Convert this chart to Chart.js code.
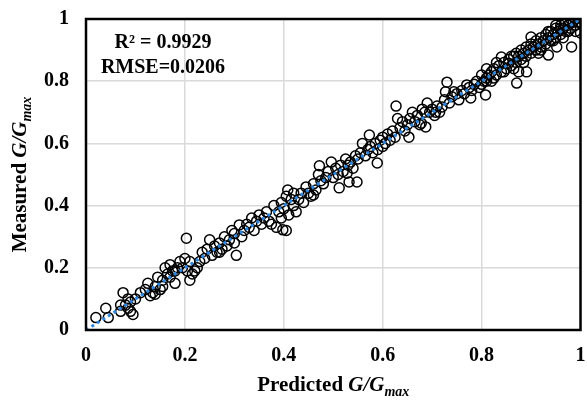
<!DOCTYPE html>
<html>
<head>
<meta charset="utf-8">
<script src="https://cdn.jsdelivr.net/npm/chart.js@4"></script>
<style>
  html, body { margin: 0; padding: 0; background: #fff; }
  #wrap { width: 587px; height: 400px; }
</style>
</head>
<body>
<div id="wrap"><canvas id="gChart" width="587" height="400"></canvas></div>
<script>
// values (predicted vs measured G/Gmax)
const predicted = [
  0.02,0.04,0.045,0.07,0.075,0.08,0.085,0.09,0.09,0.095,
  0.1,0.085,0.07,0.12,0.125,0.13,0.135,0.14,0.145,0.15,
  0.155,0.16,0.165,0.17,0.175,0.18,0.185,0.19,0.195,0.203,
  0.2,0.205,0.21,0.21,0.215,0.22,0.225,0.23,0.14,0.11,
  0.155,0.17,0.18,0.235,0.24,0.245,0.25,0.255,0.26,0.265,
  0.27,0.275,0.28,0.285,0.29,0.295,0.3,0.304,0.31,0.3,
  0.315,0.32,0.27,0.325,0.33,0.335,0.34,0.345,0.35,0.355,
  0.36,0.365,0.37,0.38,0.385,0.39,0.395,0.4,0.398,0.405,
  0.41,0.405,0.415,0.42,0.42,0.425,0.408,0.395,0.375,0.43,
  0.435,0.44,0.445,0.45,0.455,0.46,0.46,0.465,0.47,0.472,
  0.475,0.48,0.485,0.49,0.496,0.5,0.505,0.51,0.512,0.515,
  0.52,0.525,0.528,0.53,0.532,0.535,0.54,0.545,0.548,0.55,
  0.555,0.559,0.565,0.57,0.573,0.575,0.58,0.585,0.589,0.59,
  0.595,0.6,0.6,0.605,0.61,0.615,0.62,0.625,0.627,0.63,
  0.635,0.64,0.645,0.65,0.653,0.655,0.66,0.665,0.67,0.675,
  0.678,0.68,0.685,0.687,0.69,0.695,0.7,0.705,0.707,0.71,
  0.715,0.72,0.725,0.727,0.73,0.735,0.74,0.744,0.75,0.754,
  0.76,0.765,0.77,0.775,0.778,0.78,0.785,0.79,0.795,0.80,
  0.80,0.805,0.808,0.81,0.815,0.82,0.82,0.825,0.83,0.835,
  0.84,0.84,0.845,0.85,0.855,0.855,0.86,0.865,0.87,0.871,
  0.875,0.875,0.88,0.885,0.89,0.891,0.895,0.9,0.9,0.905,
  0.91,0.915,0.92,0.925,0.93,0.935,0.935,0.94,0.945,0.95,
  0.95,0.952,0.955,0.96,0.965,0.97,0.975,0.98,0.982,0.985,
  0.99,0.995,1.0,1.0,0.96,0.97,0.94,0.92,0.88,0.86,
  0.83,0.81,0.89,0.91,0.93,0.95,0.98,0.99,0.865,0.87,
  0.885,0.9,0.92,0.935,0.945,0.96,0.975,0.99,0.965,0.915,
  0.845,0.825,0.81
];
const measured = [
  0.04,0.07,0.04,0.06,0.12,0.08,0.10,0.09,0.06,0.05,
  0.10,0.07,0.08,0.13,0.15,0.11,0.12,0.14,0.17,0.13,
  0.16,0.20,0.18,0.21,0.19,0.15,0.20,0.22,0.20,0.295,
  0.23,0.19,0.16,0.22,0.18,0.19,0.20,0.22,0.115,0.12,
  0.14,0.17,0.19,0.25,0.23,0.26,0.29,0.24,0.27,0.25,
  0.28,0.26,0.30,0.27,0.29,0.32,0.31,0.24,0.338,0.28,
  0.30,0.32,0.25,0.34,0.33,0.36,0.32,0.35,0.37,0.34,
  0.36,0.38,0.35,0.40,0.33,0.38,0.41,0.39,0.322,0.43,
  0.37,0.32,0.42,0.44,0.40,0.38,0.45,0.36,0.34,0.42,
  0.44,0.41,0.46,0.44,0.43,0.47,0.434,0.45,0.50,0.528,
  0.48,0.47,0.49,0.51,0.54,0.49,0.52,0.50,0.457,0.53,
  0.51,0.55,0.504,0.53,0.476,0.54,0.52,0.56,0.476,0.55,
  0.57,0.60,0.56,0.58,0.627,0.59,0.57,0.60,0.537,0.58,
  0.61,0.59,0.62,0.60,0.63,0.61,0.64,0.62,0.72,0.68,
  0.65,0.67,0.64,0.66,0.62,0.68,0.70,0.67,0.69,0.66,
  0.665,0.71,0.70,0.653,0.73,0.70,0.71,0.69,0.70,0.72,
  0.70,0.717,0.74,0.766,0.797,0.73,0.75,0.766,0.76,0.74,
  0.77,0.76,0.788,0.78,0.746,0.77,0.79,0.80,0.78,0.82,
  0.79,0.80,0.756,0.81,0.82,0.83,0.80,0.84,0.82,0.85,
  0.878,0.83,0.86,0.84,0.858,0.87,0.85,0.88,0.86,0.794,
  0.83,0.88,0.87,0.89,0.88,0.83,0.90,0.942,0.89,0.91,
  0.90,0.92,0.91,0.93,0.92,0.884,0.94,0.93,0.95,0.98,
  0.94,0.91,0.96,0.95,0.97,0.96,0.98,0.97,0.91,0.99,
  0.98,0.99,0.99,0.955,0.97,0.99,0.96,0.94,0.90,0.88,
  0.86,0.84,0.91,0.93,0.95,0.97,1.0,1.0,0.84,0.89,
  0.86,0.92,0.90,0.96,0.93,0.98,0.96,0.96,0.94,0.89,
  0.83,0.81,0.80
];
const lineX = [0, 1];
const lineY = [0, 1];
const tickLabels = ["0", "0.2", "0.4", "0.6", "0.8", "1"];
const statLines = ["R\u00b2 = 0.9929", "RMSE=0.0206"];

const SERIF = "'Liberation Serif', 'Times New Roman', serif";

function pairs(xs, ys) {
  return xs.map((x, i) => ({ x: x, y: ys[i] }));
}

// draws "Word G/Gmax" with italic part and subscript
function mixedTitle(ctx, parts, cx, base) {
  let w = 0;
  parts.forEach(p => { ctx.font = p.font; p.w = ctx.measureText(p.t).width; w += p.w; });
  let x = cx - w / 2;
  ctx.textAlign = "left";
  ctx.textBaseline = "alphabetic";
  parts.forEach(p => {
    ctx.font = p.font;
    ctx.fillText(p.t, x, base + (p.dy || 0));
    x += p.w;
  });
}

function titleParts(word) {
  return [
    { t: word + " ", font: "bold 21px " + SERIF },
    { t: "G/G", font: "italic bold 21px " + SERIF },
    { t: "max", font: "italic bold 14px " + SERIF, dy: 5 }
  ];
}

const frame = {
  id: "frame",
  afterDraw(chart) {
    const ctx = chart.ctx;
    const a = chart.chartArea;
    ctx.save();
    ctx.strokeStyle = "#000";
    ctx.lineWidth = 2.5;
    ctx.strokeRect(a.left, a.top, a.right - a.left, a.bottom - a.top);

    ctx.fillStyle = "#000";
    ctx.font = "bold 20px " + SERIF;
    ctx.textAlign = "center";
    ctx.textBaseline = "alphabetic";
    ctx.fillText(statLines[0], 163, 48);
    ctx.fillText(statLines[1], 163, 73);

    mixedTitle(ctx, titleParts("Predicted"), (a.left + a.right) / 2, 391);

    ctx.translate(26, (a.top + a.bottom) / 2);
    ctx.rotate(-Math.PI / 2);
    mixedTitle(ctx, titleParts("Measured"), 0, 0);
    ctx.restore();
  }
};

function noPad(s) {
  s.paddingTop = 0;
  s.paddingBottom = 0;
  s.paddingLeft = 0;
  s.paddingRight = 0;
}

function axis(fit, pad) {
  return {
    type: "linear",
    min: 0,
    max: 1,
    border: { display: false },
    grid: { color: "#d9d9d9", lineWidth: 1.5, drawTicks: false },
    ticks: {
      stepSize: 0.2,
      padding: pad,
      color: "#000",
      font: { family: SERIF, size: 20, weight: "bold" },
      callback: (v, i) => tickLabels[i]
    },
    afterFit: s => { fit(s); noPad(s); }
  };
}

new Chart(document.getElementById("gChart"), {
  data: {
    datasets: [
      {
        type: "line",
        data: pairs(lineX, lineY),
        borderColor: "#2e86de",
        borderWidth: 3,
        borderDash: [3, 3.5],
        pointRadius: 0,
        order: 0
      },
      {
        type: "scatter",
        data: pairs(predicted, measured),
        pointStyle: "circle",
        pointRadius: 5,
        borderColor: "#000",
        borderWidth: 1.5,
        backgroundColor: "rgba(0,0,0,0)",
        order: 1
      }
    ]
  },
  options: {
    responsive: false,
    animation: false,
    layout: { padding: { top: 19, right: 5, left: 0, bottom: 0 } },
    plugins: { legend: { display: false }, tooltip: { enabled: false } },
    scales: {
      x: axis(s => { s.height = 70; }, 14),
      y: axis(s => { s.width = 86; }, 17)
    }
  },
  plugins: [frame]
});
</script>
</body>
</html>
